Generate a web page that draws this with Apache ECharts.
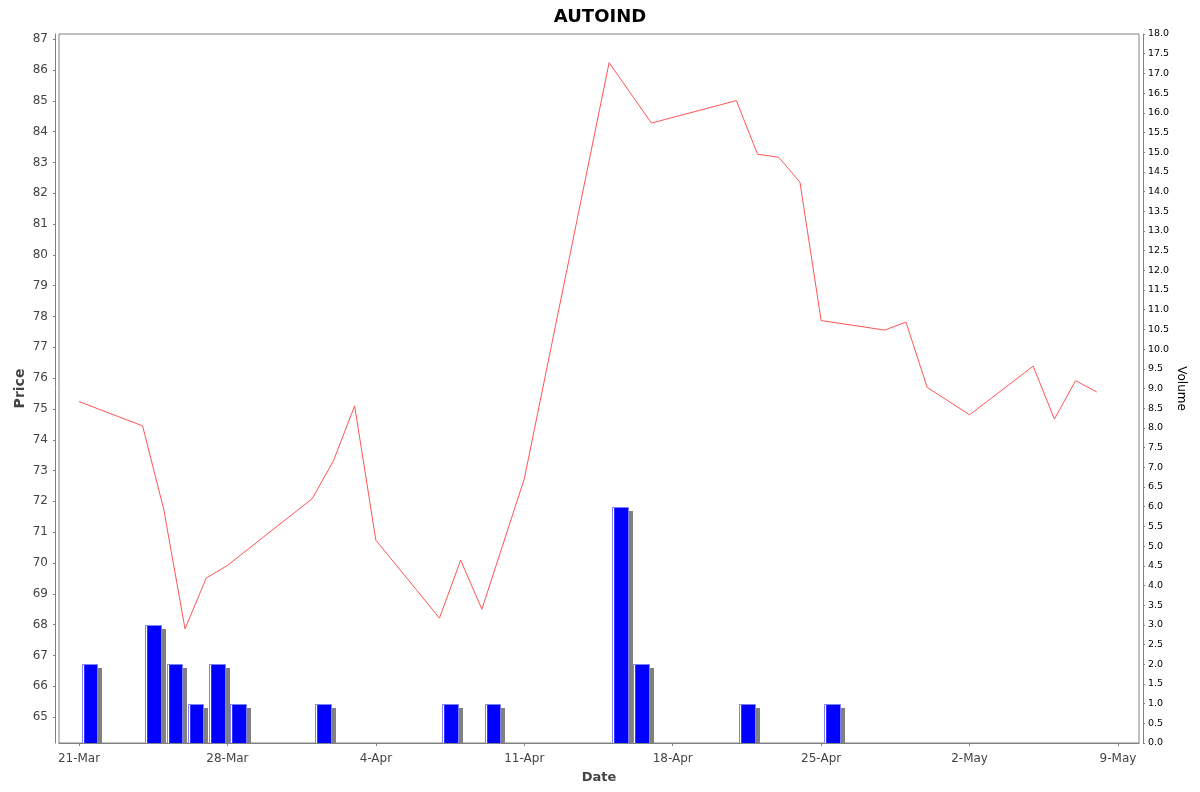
<!DOCTYPE html>
<html><head><meta charset="utf-8">
<script src="https://cdn.jsdelivr.net/npm/echarts@6/dist/echarts.min.js"></script>
<style>html,body{margin:0;padding:0;background:#fff}#c{width:1200px;height:792px}</style>
</head><body><div id="c"></div>
<script>
const chartTitle = 'AUTOIND';
const priceDates = ['2025-03-21','2025-03-24','2025-03-25','2025-03-26','2025-03-27','2025-03-28',
  '2025-04-01','2025-04-02','2025-04-03','2025-04-04','2025-04-07','2025-04-08','2025-04-09','2025-04-11',
  '2025-04-15','2025-04-17','2025-04-21','2025-04-22','2025-04-23','2025-04-24','2025-04-25',
  '2025-04-28','2025-04-29','2025-04-30','2025-05-02','2025-05-05','2025-05-06','2025-05-07','2025-05-08'];
const priceValues = [75.24,74.45,71.73,67.86,69.51,69.92,
  72.09,73.32,75.10,70.74,68.21,70.09,68.50,72.73,
  86.24,84.28,85.01,83.27,83.17,82.36,77.87,
  77.56,77.82,75.70,74.81,76.39,74.67,75.92,75.55];
const volumeDates = ['2025-03-21','2025-03-24','2025-03-25','2025-03-26','2025-03-27','2025-03-28',
  '2025-04-01','2025-04-07','2025-04-09','2025-04-15','2025-04-16','2025-04-21','2025-04-25'];
const volumeValues = [2,3,2,1,2,1,1,1,1,6,2,1,1];
const priceTicks = [65,66,67,68,69,70,71,72,73,74,75,76,77,78,79,80,81,82,83,84,85,86,87];
const dateTicks = ['2025-03-21','2025-03-28','2025-04-04','2025-04-11','2025-04-18','2025-04-25','2025-05-02','2025-05-09'];
const monthNames = ['Jan','Feb','Mar','Apr','May','Jun','Jul','Aug','Sep','Oct','Nov','Dec'];

const DAY = 86400000;
const toMs = s => Date.parse(s + 'T00:00:00Z');
const fmtDate = v => { const d = new Date(v); return d.getUTCDate() + '-' + monthNames[d.getUTCMonth()]; };

const priceData = priceDates.map((d, i) => [toMs(d), priceValues[i]]);
const volumeData = volumeDates.map((d, i) => [toMs(d), volumeValues[i]]);
const dateTickMs = dateTicks.map(toMs);

const chart = echarts.init(document.getElementById('c'), null, {renderer: 'canvas'});
chart.setOption({
  animation: false,
  backgroundColor: '#ffffff',
  title: {
    text: chartTitle, left: 'center', top: 3,
    textStyle: {fontFamily: 'DejaVu Sans', fontWeight: 'bold', fontSize: 18, color: '#000'}
  },
  grid: {left: 59, right: 61, top: 34, bottom: 49, show: true, borderColor: '#808080', borderWidth: 1, backgroundColor: '#fff'},
  xAxis: {
    type: 'value',
    min: toMs('2025-03-21') - 0.943 * DAY,
    max: toMs('2025-05-09') + 0.99 * DAY,
    offset: 4,
    name: 'Date', nameLocation: 'middle', nameGap: 24, nameMoveOverlap: false,
    nameTextStyle: {fontFamily: 'DejaVu Sans', fontWeight: 'bold', fontSize: 13, color: '#444'},
    axisLine: {show: true, lineStyle: {color: '#808080', width: 1}},
    axisTick: {show: true, length: 3, lineStyle: {color: '#808080'}, customValues: dateTickMs},
    axisLabel: {customValues: dateTickMs, formatter: fmtDate, margin: 6,
      fontFamily: 'DejaVu Sans', fontSize: 12, color: '#444'},
    splitLine: {show: false}
  },
  yAxis: [{
    type: 'value', position: 'left',
    min: 64.156, max: 87.172,
    offset: 4,
    name: 'Price', nameLocation: 'middle', nameGap: 28, nameMoveOverlap: false,
    nameTextStyle: {fontFamily: 'DejaVu Sans', fontWeight: 'bold', fontSize: 14, color: '#444'},
    axisLine: {show: true, lineStyle: {color: '#808080', width: 1}},
    axisTick: {show: true, length: 2, lineStyle: {color: '#808080'}, customValues: priceTicks},
    axisLabel: {customValues: priceTicks, margin: 7,
      fontFamily: 'DejaVu Sans', fontSize: 12, color: '#444'},
    splitLine: {show: false}
  }, {
    type: 'value', position: 'right',
    min: 0, max: 18, interval: 0.5,
    offset: 4,
    name: 'Volume', nameLocation: 'middle', nameGap: 32, nameRotate: -90, nameMoveOverlap: false,
    nameTextStyle: {fontFamily: 'DejaVu Sans', fontSize: 12, color: '#000'},
    axisLine: {show: true, lineStyle: {color: '#808080', width: 1}},
    axisTick: {show: true, length: 2, lineStyle: {color: '#808080'}},
    axisLabel: {formatter: v => v.toFixed(1), margin: 5,
      fontFamily: 'DejaVu Sans', fontSize: 9.5, color: '#000'},
    splitLine: {show: false}
  }],
  series: [{
    type: 'custom', name: 'Volume', yAxisIndex: 1, data: volumeData, clip: true,
    renderItem: function (params, api) {
      const t = api.value(0), v = api.value(1);
      const p0 = api.coord([t + 0.127 * DAY, v]);
      const p1 = api.coord([t + 0.915 * DAY, 0]);
      const x0 = Math.round(p0[0]), x1 = Math.round(p1[0]);
      const yTop = Math.round(p0[1]), yBase = p1[1];
      const w = x1 - x0;
      return {type: 'group', children: [
        {type: 'rect', shape: {x: x0 + 4, y: yTop + 4, width: w, height: Math.max(0, yBase - yTop - 4)}, style: {fill: '#808080'}},
        {type: 'rect', shape: {x: x0 + 0.5, y: yTop + 0.5, width: w - 1, height: yBase - yTop}, style: {fill: '#0000ff', stroke: '#8080ff', lineWidth: 1}},
        {type: 'rect', shape: {x: x0 + 1, y: yTop + 1, width: 1.2, height: yBase - yTop - 1}, style: {fill: '#ffffff'}}
      ]};
    }
  }, {
    type: 'line', name: 'Price', yAxisIndex: 0, data: priceData,
    symbol: 'none', lineStyle: {color: '#ff5555', width: 1}, itemStyle: {color: '#ff5555'}
  }]
});
</script>
</body></html>
